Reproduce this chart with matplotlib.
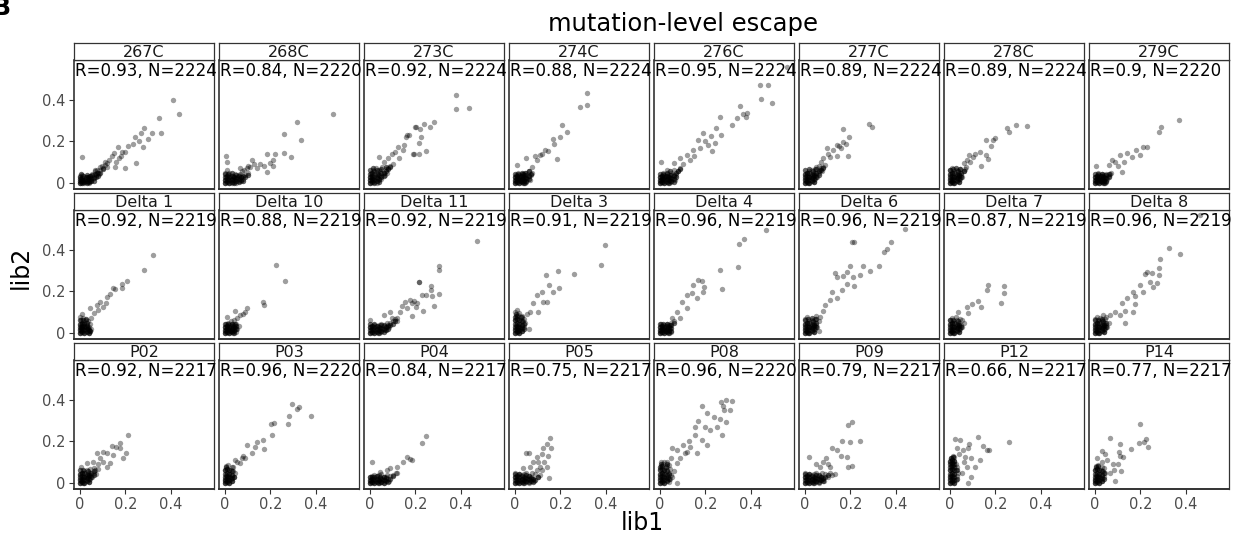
"""
plot.py - facet grid of mutation-level escape, lib1 vs lib2 replicate correlation.
"""

import matplotlib
matplotlib.use("Agg")
import matplotlib.pyplot as plt

# ── Data (estimated from the figure) ─────────────────────────────────────────
panel_names = ["267C", "268C", "273C", "274C", "276C", "277C", "278C", "279C",
               "Delta 1", "Delta 10", "Delta 11", "Delta 3", "Delta 4", "Delta 6", "Delta 7", "Delta 8",
               "P02", "P03", "P04", "P05", "P08", "P09", "P12", "P14"]
r_vals = [0.93, 0.84, 0.92, 0.88, 0.95, 0.89, 0.89, 0.9,
          0.92, 0.88, 0.92, 0.91, 0.96, 0.96, 0.87, 0.96,
          0.92, 0.96, 0.84, 0.75, 0.96, 0.79, 0.66, 0.77]
n_vals = [2224, 2220, 2224, 2224, 2224, 2224, 2224, 2220,
          2219, 2219, 2219, 2219, 2219, 2219, 2219, 2219,
          2217, 2220, 2217, 2217, 2220, 2217, 2217, 2217]

# (lib1, lib2) pairs per selection: spread-out mutations
pts_267C = [(0.41, 0.40), (0.436, 0.33), (0.346, 0.31), (0.355, 0.24), (0.318, 0.24), (0.284, 0.262),
            (0.268, 0.241), (0.30, 0.21), (0.241, 0.22), (0.262, 0.20), (0.277, 0.174), (0.213, 0.179),
            (0.247, 0.098), (0.232, 0.187), (0.166, 0.174), (0.2, 0.147), (0.185, 0.15), (0.15, 0.145),
            (0.2, 0.074), (0.007, 0.125), (0.13, 0.11), (0.155, 0.078), (0.118, 0.094), (0.088, 0.078),
            (0.066, 0.062), (0.17, 0.12), (0.14, 0.13), (0.11, 0.1), (0.16, 0.1), (0.18, 0.13),
            (0, 0), (0.01, 0.005), (0.02, 0.01), (0.005, 0.02), (0.015, 0.015), (0.03, 0.005),
            (0.025, 0.02), (0.04, 0.01), (0.035, 0.025), (0.05, 0.02), (0.045, 0.035), (0.06, 0.03),
            (0.055, 0.045), (0.07, 0.04), (0.065, 0.055), (0.08, 0.05), (0.0, 0.035), (0.01, 0.04),
            (0.09, 0.06), (0.1, 0.07), (0.005, 0.01), (0.02, 0.0), (0.03, 0.03), (0.04, 0.0),
            (0.05, 0.01), (0.075, 0.06), (0.085, 0.045), (0.095, 0.08), (0.11, 0.085), (0.12, 0.075)]
pts_268C = [(0.477, 0.333), (0.318, 0.293), (0.336, 0.205), (0.26, 0.237), (0.262, 0.144), (0.29, 0.126),
            (0.222, 0.139), (0.184, 0.139), (0.213, 0.083), (0.184, 0.054), (0.199, 0.094), (0.12, 0.109),
            (0.155, 0.091), (0.11, 0.078), (0.1, 0.083), (0.004, 0.13), (0.007, 0.10), (0.066, 0.07),
            (0.21, 0.11), (0.17, 0.08), (0.14, 0.07), (0.13, 0.09),
            (0, 0), (0.01, 0.01), (0.02, 0), (0.03, 0.015), (0.005, 0.03), (0.015, 0.04), (0.04, 0.005),
            (0.05, 0.02), (0.06, 0.01), (0.07, 0.03), (0.08, 0.02), (0.09, 0.04), (0.1, 0.05),
            (0.025, 0.025), (0.035, 0.035), (0.045, 0.045), (0.055, 0.03), (0.065, 0.045), (0.075, 0.055),
            (0.0, 0.05), (0.01, 0.06), (0.02, 0.05), (0.085, 0.06), (0.095, 0.07), (0.03, 0.0),
            (0.05, 0.0), (0.07, 0.01), (0.015, 0.02), (0.04, 0.03), (0.0, 0.015), (0.06, 0.04)]
pts_273C = [(0.38, 0.424), (0.38, 0.355), (0.435, 0.358), (0.281, 0.294), (0.24, 0.283), (0.265, 0.267),
            (0.203, 0.267), (0.22, 0.26), (0.217, 0.19), (0.246, 0.152), (0.195, 0.141), (0.214, 0.141),
            (0.171, 0.23), (0.16, 0.22), (0.144, 0.158), (0.199, 0.27), (0.224, 0.222), (0.165, 0.23),
            (0.125, 0.174), (0.19, 0.139), (0.096, 0.139), (0.081, 0.118), (0.04, 0.126), (0.06, 0.1),
            (0.11, 0.15), (0.13, 0.12), (0.15, 0.18),
            (0, 0), (0.01, 0.01), (0.02, 0.02), (0.0, 0.03), (0.01, 0.04), (0.02, 0.005), (0.03, 0.03),
            (0.04, 0.015), (0.035, 0.045), (0.05, 0.035), (0.045, 0.055), (0.06, 0.05), (0.07, 0.065),
            (0.08, 0.07), (0.09, 0.08), (0.005, 0.05), (0.015, 0.06), (0.025, 0.07), (0.03, 0.0),
            (0.05, 0.02), (0.065, 0.04), (0.075, 0.05), (0.1, 0.09), (0.0, 0.015), (0.02, 0.045),
            (0.04, 0.06), (0.055, 0.075), (0.01, 0.025), (0.03, 0.05)]
pts_274C = [(0.319, 0.433), (0.318, 0.376), (0.288, 0.363), (0.206, 0.277), (0.227, 0.245), (0.2, 0.222),
            (0.166, 0.209), (0.172, 0.185), (0.184, 0.115), (0.147, 0.155), (0.132, 0.16), (0.11, 0.134),
            (0.096, 0.11), (0.049, 0.121), (0.007, 0.088), (0.074, 0.078), (0.12, 0.14), (0.09, 0.13),
            (0, 0), (0.01, 0.005), (0.02, 0.0), (0.005, 0.015), (0.015, 0.02), (0.025, 0.01), (0.035, 0.0),
            (0.03, 0.02), (0.04, 0.01), (0.045, 0.025), (0.05, 0.005), (0.055, 0.02), (0.06, 0.035),
            (0.065, 0.015), (0.07, 0.04), (0.075, 0.05), (0.0, 0.03), (0.01, 0.035), (0.02, 0.04),
            (0.03, 0.045), (0.04, 0.04), (0.05, 0.05), (0.06, 0.055), (0.015, 0.05), (0.0, 0.01),
            (0.02, 0.025), (0.035, 0.03), (0.045, 0.0), (0.025, 0.035), (0.01, 0.02), (0.005, 0.04)]
pts_276C = [(0.559, 0.555), (0.441, 0.472), (0.477, 0.472), (0.446, 0.404), (0.494, 0.384), (0.353, 0.369),
            (0.383, 0.334), (0.367, 0.33), (0.338, 0.31), (0.378, 0.316), (0.318, 0.278), (0.266, 0.318),
            (0.247, 0.264), (0.224, 0.225), (0.27, 0.229), (0.243, 0.193), (0.191, 0.238), (0.169, 0.206),
            (0.21, 0.18), (0.177, 0.166), (0.228, 0.153), (0.147, 0.158), (0.118, 0.134), (0.132, 0.11),
            (0.088, 0.118), (0.06, 0.095), (0.004, 0.102), (0.03, 0.06), (0.15, 0.13), (0.2, 0.2), (0.1, 0.09),
            (0, 0), (0.01, 0.005), (0.02, 0.0), (0.005, 0.015), (0.015, 0.02), (0.025, 0.01), (0.035, 0.0),
            (0.03, 0.02), (0.04, 0.01), (0.045, 0.025), (0.05, 0.005), (0.055, 0.02), (0.06, 0.035),
            (0.065, 0.015), (0.07, 0.04), (0.08, 0.055), (0.0, 0.03), (0.01, 0.035), (0.02, 0.04),
            (0.03, 0.045), (0.04, 0.04), (0.05, 0.05), (0.06, 0.06), (0.015, 0.05), (0.0, 0.01),
            (0.02, 0.025), (0.035, 0.03), (0.09, 0.07), (0.025, 0.035), (0.01, 0.02)]
pts_277C = [(0.28, 0.281), (0.297, 0.269), (0.166, 0.257), (0.196, 0.222), (0.169, 0.198), (0.181, 0.187),
            (0.14, 0.182), (0.152, 0.178), (0.16, 0.17), (0.188, 0.131), (0.125, 0.158), (0.11, 0.126),
            (0.096, 0.166), (0.14, 0.13), (0.081, 0.118), (0.07, 0.1), (0.1, 0.14), (0.06, 0.08),
            (0, 0), (0.01, 0.01), (0.02, 0.0), (0.0, 0.02), (0.015, 0.025), (0.03, 0.015), (0.04, 0.005),
            (0.025, 0.035), (0.035, 0.03), (0.045, 0.02), (0.05, 0.04), (0.055, 0.03), (0.06, 0.05),
            (0.065, 0.06), (0.07, 0.07), (0.075, 0.055), (0.08, 0.075), (0.0, 0.04), (0.01, 0.05),
            (0.02, 0.055), (0.03, 0.06), (0.04, 0.05), (0.045, 0.065), (0.05, 0.075), (0.005, 0.01),
            (0.02, 0.03), (0.035, 0.045), (0.09, 0.085), (0.015, 0.0), (0.04, 0.035)]
pts_278C = [(0.341, 0.273), (0.291, 0.28), (0.253, 0.265), (0.26, 0.246), (0.199, 0.214), (0.19, 0.206),
            (0.182, 0.179), (0.157, 0.206), (0.159, 0.134), (0.167, 0.115), (0.138, 0.083), (0.132, 0.15),
            (0.11, 0.139), (0.082, 0.134), (0.1, 0.125), (0.074, 0.11), (0.06, 0.095), (0.09, 0.1),
            (0, 0), (0.01, 0.01), (0.02, 0.0), (0.0, 0.02), (0.015, 0.025), (0.03, 0.015), (0.04, 0.005),
            (0.025, 0.035), (0.035, 0.03), (0.045, 0.02), (0.05, 0.04), (0.055, 0.03), (0.06, 0.055),
            (0.065, 0.065), (0.07, 0.075), (0.0, 0.04), (0.01, 0.05), (0.02, 0.055), (0.03, 0.06),
            (0.04, 0.05), (0.045, 0.065), (0.005, 0.01), (0.02, 0.03), (0.035, 0.045), (0.015, 0.0),
            (0.04, 0.035), (0.0, 0.06), (0.01, 0.07)]
pts_279C = [(0.369, 0.302), (0.291, 0.27), (0.282, 0.243), (0.228, 0.174), (0.213, 0.174), (0.199, 0.133),
            (0.18, 0.158), (0.14, 0.142), (0.162, 0.126), (0.11, 0.134), (0.118, 0.054), (0.074, 0.11),
            (0.004, 0.082), (0.09, 0.1), (0.13, 0.1), (0.06, 0.085), (0.1, 0.08),
            (0, 0), (0.01, 0.005), (0.02, 0.0), (0.005, 0.015), (0.015, 0.02), (0.025, 0.01), (0.035, 0.0),
            (0.03, 0.02), (0.04, 0.01), (0.045, 0.025), (0.05, 0.005), (0.055, 0.02), (0.06, 0.035),
            (0.065, 0.045), (0.07, 0.05), (0.0, 0.03), (0.01, 0.035), (0.02, 0.04), (0.03, 0.045),
            (0.04, 0.04), (0.05, 0.045), (0.015, 0.05), (0.0, 0.01), (0.02, 0.025), (0.035, 0.03),
            (0.045, 0.0), (0.025, 0.035), (0.01, 0.02)]
pts_delta1 = [(0.321, 0.374), (0.28, 0.30), (0.207, 0.248), (0.187, 0.235), (0.184, 0.214), (0.155, 0.213),
              (0.145, 0.215), (0.132, 0.185), (0.121, 0.171), (0.115, 0.144), (0.103, 0.126), (0.088, 0.15),
              (0.074, 0.135), (0.044, 0.118), (0.007, 0.09), (0.06, 0.095), (0.08, 0.11), (0.05, 0.07),
              (0, 0), (0.01, 0.01), (0.02, 0.0), (0.0, 0.02), (0.015, 0.02), (0.03, 0.01), (0.04, 0.0),
              (0.025, 0.03), (0.035, 0.02), (0.045, 0.01), (0.0, 0.04), (0.01, 0.045), (0.02, 0.05),
              (0.03, 0.04), (0.04, 0.03), (0.005, 0.06), (0.015, 0.07), (0.025, 0.06), (0.035, 0.055),
              (0.045, 0.045), (0.005, 0.01), (0.02, 0.035), (0.05, 0.02), (0.01, 0.03), (0.0, 0.075)]
pts_delta10 = [(0.224, 0.326), (0.265, 0.248), (0.166, 0.147), (0.172, 0.134), (0.096, 0.118), (0.088, 0.1),
               (0.066, 0.086), (0.044, 0.106), (0.007, 0.078), (0.04, 0.06), (0.08, 0.09), (0.055, 0.07),
               (0, 0), (0.01, 0.005), (0.02, 0.0), (0.005, 0.015), (0.015, 0.02), (0.025, 0.01),
               (0.035, 0.0), (0.03, 0.02), (0.04, 0.01), (0.045, 0.025), (0.05, 0.005), (0.055, 0.02),
               (0.06, 0.035), (0.0, 0.03), (0.01, 0.035), (0.02, 0.04), (0.03, 0.045), (0.04, 0.04),
               (0.05, 0.045), (0.015, 0.05), (0.0, 0.01), (0.02, 0.025), (0.035, 0.03), (0.01, 0.02),
               (0.005, 0.045), (0.025, 0.055)]
pts_delta11 = [(0.471, 0.443), (0.305, 0.323), (0.305, 0.30), (0.216, 0.246), (0.269, 0.227), (0.269, 0.205),
               (0.246, 0.182), (0.228, 0.182), (0.272, 0.179), (0.303, 0.189), (0.28, 0.13), (0.233, 0.104),
               (0.206, 0.142), (0.201, 0.125), (0.186, 0.142), (0.177, 0.16), (0.155, 0.147), (0.187, 0.082),
               (0.194, 0.155), (0.132, 0.102), (0.118, 0.058), (0.09, 0.1), (0.06, 0.085), (0.215, 0.246),
               (0.165, 0.12), (0.14, 0.13),
               (0, 0), (0.01, 0.005), (0.02, 0.0), (0.005, 0.015), (0.015, 0.02), (0.025, 0.01),
               (0.035, 0.0), (0.03, 0.02), (0.04, 0.01), (0.045, 0.025), (0.05, 0.005), (0.055, 0.02),
               (0.06, 0.035), (0.065, 0.015), (0.07, 0.03), (0.08, 0.04), (0.09, 0.05), (0.1, 0.055),
               (0.11, 0.065), (0.12, 0.07), (0.0, 0.03), (0.01, 0.035), (0.02, 0.04), (0.03, 0.035),
               (0.04, 0.04), (0.05, 0.045), (0.075, 0.05), (0.085, 0.03), (0.095, 0.07), (0.0, 0.06)]
pts_delta3 = [(0.397, 0.42), (0.377, 0.328), (0.26, 0.283), (0.191, 0.297), (0.135, 0.277), (0.196, 0.217),
              (0.169, 0.198), (0.152, 0.23), (0.118, 0.198), (0.096, 0.182), (0.125, 0.15), (0.14, 0.15),
              (0.081, 0.142), (0.066, 0.102), (0.103, 0.102), (0.052, 0.09), (0.03, 0.08), (0.06, 0.02),
              (0, 0), (0.01, 0.01), (0.02, 0.0), (0.0, 0.02), (0.015, 0.025), (0.03, 0.01), (0.005, 0.04),
              (0.02, 0.045), (0.03, 0.035), (0.0, 0.06), (0.01, 0.065), (0.025, 0.06), (0.035, 0.055),
              (0.005, 0.08), (0.015, 0.085), (0.03, 0.075), (0.0, 0.1), (0.01, 0.11), (0.02, 0.095),
              (0.04, 0.03), (0.04, 0.065), (0.01, 0.03), (0.025, 0.02), (0.045, 0.05)]
pts_delta4 = [(0.467, 0.492), (0.368, 0.452), (0.347, 0.425), (0.343, 0.318), (0.265, 0.30), (0.271, 0.209),
              (0.169, 0.254), (0.184, 0.25), (0.147, 0.23), (0.196, 0.222), (0.191, 0.197), (0.162, 0.166),
              (0.118, 0.182), (0.096, 0.15), (0.118, 0.118), (0.074, 0.102), (0.088, 0.07), (0.052, 0.07),
              (0.044, 0.04), (0.14, 0.19),
              (0, 0), (0.01, 0.005), (0.02, 0.0), (0.005, 0.015), (0.015, 0.02), (0.025, 0.01),
              (0.035, 0.0), (0.03, 0.02), (0.04, 0.01), (0.045, 0.025), (0.05, 0.005), (0.0, 0.03),
              (0.01, 0.035), (0.02, 0.04), (0.03, 0.045), (0.04, 0.04), (0.05, 0.05), (0.0, 0.01),
              (0.02, 0.025), (0.035, 0.03), (0.01, 0.02), (0.005, 0.045), (0.06, 0.055)]
pts_delta6 = [(0.441, 0.497), (0.206, 0.438), (0.218, 0.438), (0.378, 0.435), (0.36, 0.401), (0.348, 0.39),
              (0.257, 0.321), (0.199, 0.321), (0.324, 0.321), (0.287, 0.297), (0.243, 0.278), (0.187, 0.294),
              (0.131, 0.289), (0.169, 0.274), (0.14, 0.27), (0.21, 0.27), (0.184, 0.233), (0.218, 0.227),
              (0.162, 0.206), (0.118, 0.198), (0.11, 0.158), (0.14, 0.17), (0.088, 0.134), (0.081, 0.106),
              (0.066, 0.078), (0.063, 0.01),
              (0, 0), (0.01, 0.01), (0.02, 0.0), (0.0, 0.02), (0.015, 0.025), (0.03, 0.015), (0.04, 0.005),
              (0.025, 0.035), (0.035, 0.03), (0.045, 0.02), (0.05, 0.04), (0.055, 0.03), (0.06, 0.055),
              (0.0, 0.04), (0.01, 0.05), (0.02, 0.055), (0.03, 0.06), (0.04, 0.05), (0.045, 0.065),
              (0.005, 0.01), (0.02, 0.03), (0.035, 0.045), (0.015, 0.0), (0.04, 0.035), (0.0, 0.065),
              (0.01, 0.075), (0.05, 0.08)]
pts_delta7 = [(0.166, 0.23), (0.238, 0.227), (0.162, 0.206), (0.238, 0.193), (0.224, 0.145), (0.125, 0.153),
              (0.135, 0.126), (0.099, 0.139), (0.074, 0.126), (0.081, 0.094), (0.052, 0.062), (0.037, 0.1),
              (0, 0), (0.01, 0.01), (0.02, 0.0), (0.0, 0.02), (0.015, 0.025), (0.03, 0.015), (0.04, 0.005),
              (0.025, 0.035), (0.035, 0.03), (0.045, 0.02), (0.05, 0.04), (0.055, 0.03), (0.06, 0.05),
              (0.0, 0.04), (0.01, 0.05), (0.02, 0.055), (0.03, 0.06), (0.04, 0.05), (0.045, 0.065),
              (0.005, 0.01), (0.02, 0.03), (0.035, 0.045), (0.015, 0.0), (0.04, 0.035), (0.0, 0.06),
              (0.01, 0.07), (0.025, 0.075)]
pts_delta8 = [(0.464, 0.566), (0.327, 0.409), (0.375, 0.379), (0.288, 0.357), (0.28, 0.31), (0.28, 0.28),
              (0.25, 0.29), (0.221, 0.283), (0.228, 0.294), (0.243, 0.246), (0.272, 0.241), (0.199, 0.23),
              (0.257, 0.222), (0.169, 0.198), (0.213, 0.198), (0.177, 0.179), (0.14, 0.166), (0.118, 0.142),
              (0.177, 0.137), (0.169, 0.102), (0.132, 0.106), (0.11, 0.086), (0.088, 0.102), (0.066, 0.086),
              (0.037, 0.086), (0.022, 0.07), (0.132, 0.046),
              (0, 0), (0.01, 0.01), (0.02, 0.0), (0.0, 0.02), (0.015, 0.025), (0.03, 0.015), (0.04, 0.005),
              (0.025, 0.035), (0.035, 0.03), (0.045, 0.02), (0.05, 0.04), (0.055, 0.03), (0.06, 0.05),
              (0.0, 0.04), (0.01, 0.05), (0.02, 0.055), (0.03, 0.06), (0.04, 0.05), (0.045, 0.065),
              (0.005, 0.01), (0.02, 0.03), (0.035, 0.045), (0.015, 0.0), (0.04, 0.035), (0.0, 0.065),
              (0.01, 0.075), (0.05, 0.075)]
pts_P02 = [(0.21, 0.229), (0.177, 0.19), (0.14, 0.177), (0.159, 0.174), (0.177, 0.166), (0.203, 0.145),
           (0.188, 0.122), (0.103, 0.15), (0.118, 0.142), (0.147, 0.134), (0.132, 0.094), (0.074, 0.142),
           (0.088, 0.118), (0.118, 0.078), (0.059, 0.102), (0.004, 0.078), (0.029, 0.094), (0.1, 0.1),
           (0.08, 0.09), (0.06, 0.07),
           (0, 0), (0.01, 0.01), (0.02, 0.0), (0.0, 0.02), (0.015, 0.025), (0.03, 0.015), (0.04, 0.005),
           (0.025, 0.035), (0.035, 0.03), (0.045, 0.02), (0.05, 0.04), (0.055, 0.03), (0.06, 0.05),
           (0.065, 0.06), (0.07, 0.045), (0.08, 0.065), (0.0, 0.04), (0.01, 0.05), (0.02, 0.055),
           (0.03, 0.06), (0.04, 0.05), (0.045, 0.065), (0.005, 0.01), (0.02, 0.03), (0.035, 0.045),
           (0.015, 0.0), (0.04, 0.035)]
pts_P03 = [(0.297, 0.379), (0.327, 0.366), (0.316, 0.353), (0.378, 0.323), (0.281, 0.323), (0.277, 0.285),
           (0.203, 0.281), (0.218, 0.286), (0.206, 0.23), (0.169, 0.206), (0.174, 0.163), (0.14, 0.198),
           (0.132, 0.171), (0.099, 0.181), (0.121, 0.145), (0.09, 0.118), (0.074, 0.118), (0.052, 0.102),
           (0.037, 0.078), (0.066, 0.094), (0.044, 0.11), (0.08, 0.13),
           (0, 0), (0.01, 0.01), (0.02, 0.0), (0.0, 0.02), (0.015, 0.025), (0.03, 0.01), (0.005, 0.04),
           (0.02, 0.045), (0.03, 0.035), (0.0, 0.06), (0.01, 0.065), (0.025, 0.06), (0.035, 0.055),
           (0.005, 0.08), (0.015, 0.085), (0.03, 0.075), (0.04, 0.03), (0.01, 0.03), (0.025, 0.02),
           (0.045, 0.05), (0.0, 0.01)]
pts_P04 = [(0.247, 0.225), (0.23, 0.19), (0.187, 0.11), (0.177, 0.113), (0.162, 0.123), (0.144, 0.099),
           (0.118, 0.078), (0.113, 0.046), (0.007, 0.1), (0.074, 0.062), (0.044, 0.054), (0.09, 0.07),
           (0, 0), (0.01, 0.005), (0.02, 0.0), (0.005, 0.015), (0.015, 0.02), (0.025, 0.01), (0.035, 0.0),
           (0.03, 0.02), (0.04, 0.01), (0.045, 0.025), (0.05, 0.005), (0.055, 0.02), (0.06, 0.03),
           (0.065, 0.015), (0.07, 0.03), (0.08, 0.02), (0.09, 0.035), (0.1, 0.04), (0.0, 0.03),
           (0.01, 0.035), (0.02, 0.04), (0.03, 0.035), (0.04, 0.04), (0.05, 0.045), (0.075, 0.04),
           (0.085, 0.01), (0.0, 0.01), (0.06, 0.0), (0.12, 0.05)]
pts_P05 = [(0.153, 0.217), (0.14, 0.185), (0.159, 0.166), (0.125, 0.166), (0.047, 0.145), (0.063, 0.145),
           (0.096, 0.123), (0.121, 0.139), (0.147, 0.13), (0.14, 0.078), (0.149, 0.022), (0.081, 0.102),
           (0.11, 0.078), (0.066, 0.078), (0.037, 0.07), (0.1, 0.1), (0.13, 0.1), (0.12, 0.06),
           (0, 0), (0.01, 0.005), (0.02, 0.0), (0.005, 0.015), (0.015, 0.02), (0.025, 0.01), (0.035, 0.0),
           (0.03, 0.02), (0.04, 0.01), (0.045, 0.025), (0.05, 0.005), (0.055, 0.02), (0.06, 0.035),
           (0.065, 0.015), (0.07, 0.03), (0.08, 0.02), (0.09, 0.045), (0.1, 0.03), (0.0, 0.03),
           (0.01, 0.04), (0.02, 0.045), (0.03, 0.04), (0.04, 0.045), (0.05, 0.05), (0.075, 0.05),
           (0.085, 0.01), (0.0, 0.05), (0.06, 0.0), (0.11, 0.04), (0.095, 0.06)]
pts_P08 = [(0.291, 0.398), (0.319, 0.393), (0.268, 0.389), (0.276, 0.369), (0.283, 0.35), (0.309, 0.35),
           (0.184, 0.371), (0.206, 0.334), (0.239, 0.318), (0.265, 0.305), (0.29, 0.294), (0.169, 0.299),
           (0.155, 0.27), (0.199, 0.27), (0.221, 0.254), (0.25, 0.27), (0.272, 0.229), (0.206, 0.182),
           (0.184, 0.206), (0.155, 0.23), (0.132, 0.174), (0.162, 0.142), (0.103, 0.182), (0.074, 0.158),
           (0.11, 0.142), (0.052, 0.166), (0.074, 0.094), (0.029, 0.102), (0.003, 0.102), (0.074, -0.002),
           (0.13, 0.2), (0.09, 0.12), (0.05, 0.12), (0.12, 0.15),
           (0, 0), (0.01, 0.01), (0.02, 0.0), (0.0, 0.02), (0.015, 0.025), (0.03, 0.015), (0.04, 0.005),
           (0.025, 0.035), (0.035, 0.03), (0.045, 0.02), (0.05, 0.04), (0.055, 0.03), (0.06, 0.055),
           (0.0, 0.04), (0.01, 0.05), (0.02, 0.055), (0.03, 0.06), (0.04, 0.05), (0.045, 0.065),
           (0.005, 0.08), (0.015, 0.09), (0.03, 0.08), (0.0, 0.065), (0.02, 0.1), (0.04, 0.085)]
pts_P09 = [(0.207, 0.293), (0.191, 0.278), (0.165, 0.201), (0.199, 0.198), (0.241, 0.201), (0.119, 0.169),
           (0.143, 0.158), (0.157, 0.13), (0.187, 0.126), (0.188, 0.078), (0.209, 0.082), (0.132, 0.042),
           (0.093, 0.122), (0.081, 0.102), (0.11, 0.078), (0.066, 0.078), (0.016, 0.126), (0.1, 0.09),
           (0.05, 0.09),
           (0, 0), (0.01, 0.005), (0.02, 0.0), (0.005, 0.015), (0.015, 0.02), (0.025, 0.01), (0.035, 0.0),
           (0.03, 0.02), (0.04, 0.01), (0.045, 0.025), (0.05, 0.005), (0.055, 0.02), (0.06, 0.035),
           (0.065, 0.015), (0.07, 0.03), (0.08, 0.02), (0.09, 0.045), (0.1, 0.03), (0.0, 0.03),
           (0.01, 0.04), (0.02, 0.045), (0.03, 0.04), (0.04, 0.045), (0.05, 0.05), (0.075, 0.05),
           (0.085, 0.01), (0.0, 0.05), (0.06, 0.0), (0.11, 0.05), (0.12, 0.04)]
pts_P12 = [(0.26, 0.197), (0.122, 0.219), (0.024, 0.209), (0.044, 0.206), (0.147, 0.177), (0.172, 0.158),
           (0.162, 0.158), (0.085, 0.185), (0.081, 0.166), (0.059, 0.158), (0.091, 0.118), (0.132, 0.11),
           (0.11, 0.078), (0.074, 0.078), (0.066, 0.126), (0.093, 0.03), (0.079, 0.0), (0.052, 0.046),
           (0.04, 0.14), (0.06, 0.1), (0.03, 0.17),
           (0, 0), (0.01, 0.01), (0.02, 0.0), (0.0, 0.02), (0.015, 0.025), (0.025, 0.015), (0.005, 0.04),
           (0.02, 0.045), (0.0, 0.06), (0.01, 0.065), (0.025, 0.06), (0.005, 0.08), (0.015, 0.085),
           (0.025, 0.09), (0.0, 0.1), (0.01, 0.11), (0.02, 0.105), (0.005, 0.12), (0.015, 0.13),
           (0.03, 0.035), (0.03, 0.075), (0.0, 0.035), (0.01, 0.095), (0.02, 0.125), (0.035, 0.05)]
pts_P14 = [(0.197, 0.281), (0.068, 0.216), (0.109, 0.189), (0.224, 0.211), (0.218, 0.197), (0.194, 0.19),
           (0.233, 0.171), (0.159, 0.161), (0.104, 0.15), (0.125, 0.126), (0.11, 0.13), (0.032, 0.153),
           (0.044, 0.14), (0.007, 0.122), (0.081, 0.09), (0.103, 0.09), (0.085, 0.062), (0.115, 0.058),
           (0.088, 0.01), (0.052, 0.11), (0.03, 0.1), (0.066, 0.05),
           (0, 0), (0.01, 0.01), (0.02, 0.0), (0.0, 0.02), (0.015, 0.025), (0.03, 0.01), (0.005, 0.04),
           (0.02, 0.045), (0.03, 0.035), (0.0, 0.06), (0.01, 0.065), (0.025, 0.06), (0.035, 0.055),
           (0.005, 0.08), (0.015, 0.085), (0.03, 0.075), (0.04, 0.03), (0.01, 0.03), (0.025, 0.02),
           (0.045, 0.05), (0.0, 0.01), (0.04, 0.07)]

# dense near-zero cluster (most of the ~2200 mutations) per selection
core_267C = [(0.0, 0.0), (0.01, 0.0), (0.02, 0.005), (0.03, 0.0), (0.04, 0.005), (0.05, 0.01), (0.06, 0.01),
             (0.0, 0.01), (0.01, 0.015), (0.02, 0.015), (0.03, 0.01), (0.04, 0.02), (0.05, 0.025),
             (0.06, 0.025), (0.07, 0.03), (0.08, 0.035), (0.0, 0.02), (0.01, 0.025), (0.025, 0.03),
             (0.035, 0.03), (0.045, 0.035), (0.055, 0.04), (0.065, 0.045), (0.075, 0.05), (0.09, 0.05),
             (0.0, 0.03), (0.015, 0.035), (0.03, 0.04), (0.005, 0.045), (0.1, 0.065)]
core_268C = [(0.0, 0.0), (0.01, 0.005), (0.02, 0.0), (0.03, 0.005), (0.04, 0.0), (0.05, 0.01), (0.06, 0.005),
             (0.07, 0.015), (0.08, 0.01), (0.0, 0.015), (0.01, 0.02), (0.02, 0.015), (0.03, 0.02),
             (0.04, 0.015), (0.05, 0.025), (0.06, 0.02), (0.07, 0.03), (0.08, 0.035), (0.09, 0.03),
             (0.0, 0.03), (0.01, 0.035), (0.02, 0.03), (0.03, 0.035), (0.04, 0.03), (0.05, 0.04),
             (0.06, 0.035), (0.0, 0.045), (0.015, 0.045), (0.1, 0.04), (0.03, 0.05)]
core_273C = [(0.0, 0.0), (0.01, 0.005), (0.02, 0.0), (0.03, 0.01), (0.04, 0.005), (0.0, 0.015), (0.01, 0.02),
             (0.02, 0.015), (0.03, 0.025), (0.04, 0.02), (0.05, 0.03), (0.06, 0.035), (0.0, 0.03),
             (0.01, 0.035), (0.02, 0.03), (0.03, 0.04), (0.04, 0.04), (0.05, 0.05), (0.06, 0.05),
             (0.07, 0.055), (0.08, 0.065), (0.0, 0.045), (0.01, 0.05), (0.02, 0.055), (0.03, 0.06),
             (0.05, 0.065), (0.09, 0.075), (0.0, 0.06), (0.015, 0.07), (0.07, 0.075)]
core_274C = [(0.0, 0.0), (0.01, 0.005), (0.02, 0.0), (0.03, 0.005), (0.04, 0.0), (0.05, 0.01), (0.0, 0.015),
             (0.01, 0.02), (0.02, 0.015), (0.03, 0.02), (0.04, 0.015), (0.05, 0.025), (0.06, 0.02),
             (0.0, 0.03), (0.01, 0.035), (0.02, 0.03), (0.03, 0.035), (0.04, 0.03), (0.05, 0.04),
             (0.06, 0.035), (0.07, 0.045), (0.0, 0.045), (0.015, 0.045), (0.03, 0.05), (0.045, 0.05),
             (0.06, 0.055), (0.025, 0.01), (0.035, 0.045)]
core_276C = [(0.0, 0.0), (0.01, 0.005), (0.02, 0.0), (0.03, 0.005), (0.04, 0.0), (0.05, 0.01), (0.06, 0.005),
             (0.0, 0.015), (0.01, 0.02), (0.02, 0.015), (0.03, 0.02), (0.04, 0.015), (0.05, 0.025),
             (0.06, 0.02), (0.07, 0.03), (0.0, 0.03), (0.01, 0.035), (0.02, 0.03), (0.03, 0.035),
             (0.04, 0.03), (0.05, 0.04), (0.06, 0.04), (0.07, 0.05), (0.08, 0.055), (0.0, 0.045),
             (0.015, 0.045), (0.03, 0.05), (0.045, 0.055), (0.09, 0.065)]
core_277C = [(0.0, 0.0), (0.01, 0.005), (0.02, 0.0), (0.03, 0.01), (0.04, 0.005), (0.0, 0.015), (0.01, 0.02),
             (0.02, 0.015), (0.03, 0.025), (0.04, 0.02), (0.05, 0.03), (0.06, 0.04), (0.0, 0.03),
             (0.01, 0.035), (0.02, 0.03), (0.03, 0.04), (0.04, 0.04), (0.05, 0.05), (0.06, 0.055),
             (0.07, 0.06), (0.0, 0.045), (0.01, 0.05), (0.02, 0.05), (0.035, 0.055), (0.08, 0.07),
             (0.0, 0.06), (0.02, 0.065), (0.05, 0.065)]
core_278C = [(0.0, 0.0), (0.01, 0.005), (0.02, 0.0), (0.03, 0.01), (0.04, 0.005), (0.0, 0.015), (0.01, 0.02),
             (0.02, 0.015), (0.03, 0.025), (0.04, 0.02), (0.05, 0.03), (0.0, 0.03), (0.01, 0.035),
             (0.02, 0.03), (0.03, 0.04), (0.04, 0.04), (0.05, 0.05), (0.06, 0.055), (0.0, 0.045),
             (0.01, 0.05), (0.02, 0.05), (0.035, 0.055), (0.0, 0.06), (0.015, 0.065), (0.045, 0.065),
             (0.025, 0.07)]
core_279C = [(0.0, 0.0), (0.01, 0.005), (0.02, 0.0), (0.03, 0.005), (0.04, 0.0), (0.05, 0.01), (0.0, 0.015),
             (0.01, 0.02), (0.02, 0.015), (0.03, 0.02), (0.04, 0.015), (0.05, 0.025), (0.06, 0.03),
             (0.0, 0.03), (0.01, 0.035), (0.02, 0.03), (0.03, 0.035), (0.04, 0.03), (0.05, 0.04),
             (0.0, 0.045), (0.015, 0.045), (0.03, 0.045), (0.06, 0.045), (0.025, 0.01)]
core_delta1 = [(0.0, 0.0), (0.01, 0.005), (0.02, 0.0), (0.03, 0.005), (0.04, 0.0), (0.0, 0.015), (0.01, 0.02),
               (0.02, 0.015), (0.03, 0.02), (0.04, 0.015), (0.0, 0.03), (0.01, 0.035), (0.02, 0.03),
               (0.03, 0.035), (0.0, 0.045), (0.01, 0.05), (0.02, 0.045), (0.03, 0.05), (0.0, 0.06),
               (0.015, 0.06), (0.025, 0.065), (0.045, 0.01), (0.005, 0.025), (0.035, 0.025)]
core_delta10 = [(0.0, 0.0), (0.01, 0.005), (0.02, 0.0), (0.03, 0.005), (0.04, 0.0), (0.0, 0.015), (0.01, 0.02),
                (0.02, 0.015), (0.03, 0.02), (0.04, 0.015), (0.05, 0.02), (0.0, 0.03), (0.01, 0.035),
                (0.02, 0.03), (0.03, 0.035), (0.04, 0.03), (0.05, 0.035), (0.0, 0.045), (0.015, 0.045),
                (0.03, 0.045), (0.025, 0.01), (0.045, 0.045)]
core_delta11 = [(0.0, 0.0), (0.01, 0.005), (0.02, 0.0), (0.03, 0.005), (0.04, 0.0), (0.05, 0.01), (0.06, 0.005),
                (0.07, 0.015), (0.08, 0.02), (0.0, 0.015), (0.01, 0.02), (0.02, 0.015), (0.03, 0.02),
                (0.04, 0.015), (0.05, 0.025), (0.06, 0.02), (0.07, 0.03), (0.08, 0.035), (0.09, 0.04),
                (0.1, 0.045), (0.0, 0.03), (0.01, 0.035), (0.02, 0.03), (0.03, 0.035), (0.04, 0.03),
                (0.05, 0.04), (0.06, 0.04), (0.0, 0.045), (0.02, 0.045), (0.11, 0.055)]
core_delta3 = [(0.0, 0.0), (0.01, 0.005), (0.02, 0.0), (0.03, 0.01), (0.0, 0.015), (0.01, 0.02), (0.02, 0.015),
               (0.03, 0.025), (0.0, 0.03), (0.01, 0.035), (0.02, 0.03), (0.03, 0.04), (0.0, 0.045),
               (0.01, 0.05), (0.02, 0.045), (0.03, 0.055), (0.0, 0.06), (0.01, 0.065), (0.02, 0.06),
               (0.0, 0.075), (0.01, 0.08), (0.025, 0.075), (0.005, 0.09), (0.04, 0.02), (0.04, 0.045),
               (0.015, 0.01)]
core_delta4 = [(0.0, 0.0), (0.01, 0.005), (0.02, 0.0), (0.03, 0.005), (0.04, 0.0), (0.05, 0.01), (0.0, 0.015),
               (0.01, 0.02), (0.02, 0.015), (0.03, 0.02), (0.04, 0.015), (0.05, 0.025), (0.0, 0.03),
               (0.01, 0.035), (0.02, 0.03), (0.03, 0.035), (0.04, 0.03), (0.05, 0.04), (0.0, 0.045),
               (0.015, 0.045), (0.03, 0.045), (0.06, 0.05), (0.025, 0.01)]
core_delta6 = [(0.0, 0.0), (0.01, 0.005), (0.02, 0.0), (0.03, 0.01), (0.04, 0.005), (0.0, 0.015), (0.01, 0.02),
               (0.02, 0.015), (0.03, 0.025), (0.04, 0.02), (0.05, 0.03), (0.0, 0.03), (0.01, 0.035),
               (0.02, 0.03), (0.03, 0.04), (0.04, 0.04), (0.05, 0.05), (0.0, 0.045), (0.01, 0.05),
               (0.02, 0.05), (0.035, 0.055), (0.0, 0.06), (0.015, 0.065), (0.03, 0.07), (0.05, 0.065)]
core_delta7 = [(0.0, 0.0), (0.01, 0.005), (0.02, 0.0), (0.03, 0.01), (0.04, 0.005), (0.0, 0.015), (0.01, 0.02),
               (0.02, 0.015), (0.03, 0.025), (0.04, 0.02), (0.05, 0.03), (0.0, 0.03), (0.01, 0.035),
               (0.02, 0.03), (0.03, 0.04), (0.04, 0.04), (0.0, 0.045), (0.01, 0.05), (0.02, 0.05),
               (0.035, 0.055), (0.0, 0.06), (0.015, 0.06)]
core_delta8 = [(0.0, 0.0), (0.01, 0.005), (0.02, 0.0), (0.03, 0.01), (0.04, 0.005), (0.0, 0.015), (0.01, 0.02),
               (0.02, 0.015), (0.03, 0.025), (0.04, 0.02), (0.05, 0.03), (0.0, 0.03), (0.01, 0.035),
               (0.02, 0.03), (0.03, 0.04), (0.04, 0.04), (0.0, 0.045), (0.01, 0.05), (0.02, 0.05),
               (0.035, 0.055), (0.0, 0.06), (0.015, 0.06), (0.05, 0.05), (0.03, 0.065)]
core_P02 = [(0.0, 0.0), (0.01, 0.005), (0.02, 0.0), (0.03, 0.01), (0.04, 0.005), (0.0, 0.015), (0.01, 0.02),
            (0.02, 0.015), (0.03, 0.025), (0.04, 0.02), (0.05, 0.03), (0.06, 0.04), (0.0, 0.03),
            (0.01, 0.035), (0.02, 0.03), (0.03, 0.04), (0.04, 0.04), (0.05, 0.05), (0.0, 0.045),
            (0.01, 0.05), (0.02, 0.05), (0.035, 0.055), (0.0, 0.06), (0.015, 0.06), (0.06, 0.055)]
core_P03 = [(0.0, 0.0), (0.01, 0.005), (0.02, 0.0), (0.03, 0.01), (0.0, 0.015), (0.01, 0.02), (0.02, 0.015),
            (0.03, 0.025), (0.0, 0.03), (0.01, 0.035), (0.02, 0.03), (0.03, 0.04), (0.0, 0.045),
            (0.01, 0.05), (0.02, 0.045), (0.03, 0.055), (0.0, 0.06), (0.01, 0.065), (0.02, 0.06),
            (0.005, 0.075), (0.04, 0.03)]
core_P04 = [(0.0, 0.0), (0.01, 0.005), (0.02, 0.0), (0.03, 0.005), (0.04, 0.0), (0.05, 0.005), (0.06, 0.0),
            (0.07, 0.01), (0.08, 0.005), (0.0, 0.015), (0.01, 0.02), (0.02, 0.015), (0.03, 0.02),
            (0.04, 0.015), (0.05, 0.02), (0.06, 0.015), (0.07, 0.025), (0.09, 0.02), (0.0, 0.03),
            (0.01, 0.03), (0.02, 0.03), (0.03, 0.035), (0.045, 0.03), (0.06, 0.03), (0.1, 0.035)]
core_P05 = [(0.0, 0.0), (0.01, 0.005), (0.02, 0.0), (0.03, 0.005), (0.04, 0.0), (0.05, 0.01), (0.06, 0.005),
            (0.07, 0.01), (0.08, 0.005), (0.0, 0.015), (0.01, 0.02), (0.02, 0.015), (0.03, 0.02),
            (0.04, 0.015), (0.05, 0.025), (0.06, 0.02), (0.07, 0.025), (0.08, 0.02), (0.09, 0.015),
            (0.0, 0.03), (0.01, 0.035), (0.02, 0.03), (0.03, 0.035), (0.04, 0.03), (0.05, 0.04),
            (0.06, 0.035), (0.0, 0.045), (0.02, 0.045), (0.1, 0.03)]
core_P08 = [(0.0, 0.0), (0.01, 0.005), (0.02, 0.0), (0.03, 0.01), (0.0, 0.015), (0.01, 0.02), (0.02, 0.015),
            (0.03, 0.025), (0.04, 0.02), (0.0, 0.03), (0.01, 0.035), (0.02, 0.03), (0.03, 0.04),
            (0.04, 0.045), (0.0, 0.045), (0.01, 0.05), (0.02, 0.045), (0.03, 0.055), (0.0, 0.06),
            (0.01, 0.065), (0.02, 0.06), (0.0, 0.075), (0.01, 0.08), (0.025, 0.075), (0.005, 0.09),
            (0.03, 0.09)]
core_P09 = [(0.0, 0.0), (0.01, 0.005), (0.02, 0.0), (0.03, 0.005), (0.04, 0.0), (0.05, 0.01), (0.06, 0.005),
            (0.07, 0.015), (0.08, 0.01), (0.0, 0.015), (0.01, 0.02), (0.02, 0.015), (0.03, 0.02),
            (0.04, 0.015), (0.05, 0.025), (0.06, 0.02), (0.07, 0.03), (0.08, 0.025), (0.09, 0.03),
            (0.0, 0.03), (0.01, 0.035), (0.02, 0.03), (0.03, 0.035), (0.04, 0.03), (0.05, 0.04),
            (0.06, 0.04), (0.0, 0.045), (0.02, 0.045), (0.1, 0.04)]
core_P12 = [(0.0, 0.0), (0.01, 0.005), (0.02, 0.0), (0.0, 0.015), (0.01, 0.02), (0.02, 0.015), (0.0, 0.03),
            (0.01, 0.035), (0.02, 0.03), (0.0, 0.045), (0.01, 0.05), (0.02, 0.045), (0.0, 0.06),
            (0.01, 0.065), (0.02, 0.06), (0.0, 0.075), (0.01, 0.08), (0.02, 0.075), (0.0, 0.09),
            (0.01, 0.095), (0.02, 0.09), (0.0, 0.105), (0.01, 0.11), (0.02, 0.105), (0.005, 0.12),
            (0.015, 0.125), (0.03, 0.02), (0.03, 0.06)]
core_P14 = [(0.0, 0.0), (0.01, 0.005), (0.02, 0.0), (0.03, 0.01), (0.0, 0.015), (0.01, 0.02), (0.02, 0.015),
            (0.03, 0.025), (0.04, 0.02), (0.0, 0.03), (0.01, 0.035), (0.02, 0.03), (0.03, 0.04),
            (0.0, 0.045), (0.01, 0.05), (0.02, 0.045), (0.03, 0.055), (0.0, 0.06), (0.01, 0.065),
            (0.02, 0.06), (0.005, 0.075), (0.04, 0.05), (0.015, 0.08)]

panel_points = [pts_267C, pts_268C, pts_273C, pts_274C, pts_276C, pts_277C, pts_278C, pts_279C,
                pts_delta1, pts_delta10, pts_delta11, pts_delta3, pts_delta4, pts_delta6, pts_delta7, pts_delta8,
                pts_P02, pts_P03, pts_P04, pts_P05, pts_P08, pts_P09, pts_P12, pts_P14]
panel_cores = [core_267C, core_268C, core_273C, core_274C, core_276C, core_277C, core_278C, core_279C,
               core_delta1, core_delta10, core_delta11, core_delta3, core_delta4, core_delta6, core_delta7,
               core_delta8, core_P02, core_P03, core_P04, core_P05, core_P08, core_P09, core_P12, core_P14]

ticks = [0, 0.2, 0.4]
tick_labels = ["0", "0.2", "0.4"]

# ── Layout (pixels) ──────────────────────────────────────────────────────────
W, H = 1233, 535
NCOL = 8
PANEL_W, PANEL_H = 140, 129
COL_STEP, ROW_STEP = 145, 150
LEFT0, TOP0 = 74, 60
STRIP_H = 17
EDGE = "#333333"


def fig_box(left, top, w, h):
    return [left / W, 1 - (top + h) / H, w / W, h / H]


plt.rcParams["font.family"] = "DejaVu Sans"
fig = plt.figure(figsize=(W / 100, H / 100), dpi=100)

nrows = len(panel_names) // NCOL
for i, (name, r, n, pts, core) in enumerate(zip(panel_names, r_vals, n_vals, panel_points, panel_cores)):
    row, col = divmod(i, NCOL)
    left = LEFT0 + COL_STEP * col
    top = TOP0 + ROW_STEP * row

    ax = fig.add_axes(fig_box(left, top, PANEL_W, PANEL_H))
    ax.scatter([p[0] for p in pts], [p[1] for p in pts],
               s=15, color="black", alpha=0.38, linewidths=0, zorder=3)
    ax.scatter([p[0] for p in core], [p[1] for p in core],
               s=15, color="black", alpha=0.6, linewidths=0, zorder=3)
    ax.set_xlim(-0.026, 0.59)
    ax.set_ylim(-0.029, 0.59)
    ax.set_xticks(ticks)
    ax.set_xticklabels(tick_labels)
    ax.set_yticks(ticks)
    ax.set_yticklabels(tick_labels)
    ax.tick_params(color=EDGE, length=3.5, width=0.8, labelcolor="#4d4d4d",
                   labelsize=10.5, pad=2.5)
    ax.tick_params(left=(col == 0), labelleft=(col == 0),
                   bottom=(row == nrows - 1), labelbottom=(row == nrows - 1))
    for sp in ax.spines.values():
        sp.set_color(EDGE)
        sp.set_linewidth(0.9)
    ax.spines["bottom"].set_linewidth(1.4)
    ax.spines["left"].set_linewidth(1.2)

    ax.text(0.008, 0.915, f"R={r:g}, N={n}", transform=ax.transAxes,
            ha="left", va="center", fontsize=12, color="black", clip_on=False, zorder=5)

    # facet strip
    sax = fig.add_axes(fig_box(left, top - STRIP_H, PANEL_W, STRIP_H))
    sax.set_xticks([])
    sax.set_yticks([])
    for sp in sax.spines.values():
        sp.set_color(EDGE)
        sp.set_linewidth(0.9)
    sax.text(0.5, 0.45, name, transform=sax.transAxes, ha="center", va="center",
             fontsize=11.5, color="#1a1a1a")

fig.text(683 / W, 1 - 24 / H, "mutation-level escape", ha="center", va="center", fontsize=17.5)
fig.text(642 / W, 1 - 523 / H, "lib1", ha="center", va="center", fontsize=17)
fig.text(21 / W, 1 - 267 / H, "lib2", ha="center", va="center", rotation=90, fontsize=17)
fig.text(-7 / W, 1 - 8 / H, "B", ha="left", va="center", fontsize=17, fontweight="bold")

fig.savefig("out.png", dpi=100)
plt.close(fig)
